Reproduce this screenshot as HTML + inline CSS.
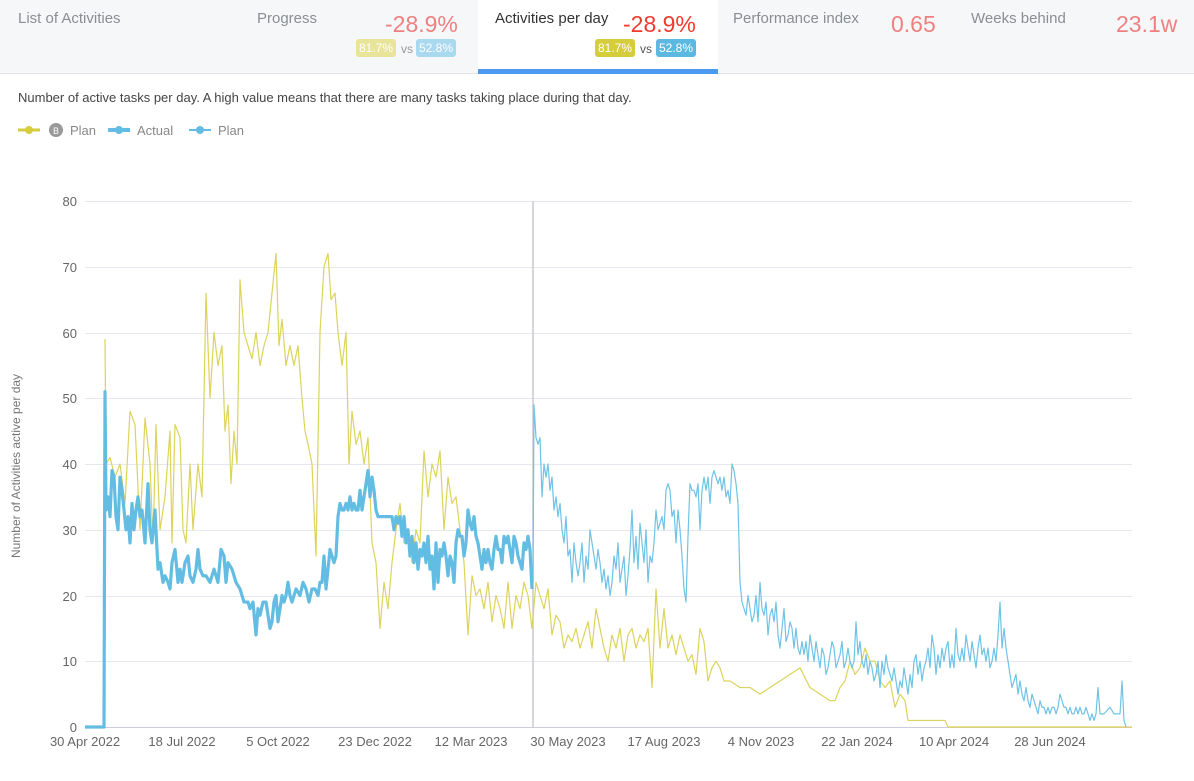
<!DOCTYPE html>
<html><head><meta charset="utf-8"><style>
body{margin:0;width:1194px;height:781px;background:#fff;font-family:"Liberation Sans",sans-serif;position:relative;overflow:hidden}
.hdr{position:absolute;left:0;top:0;width:1194px;height:73px;background:#f6f7f9;border-bottom:1px solid #e2e4e8}
.t{position:absolute;font-size:15px;color:#8a8d93}
.big{position:absolute;font-size:23px;color:#f08080}
.badge{position:absolute;font-size:12px;color:#fff;padding:2px 3px;border-radius:3px}
.vs{position:absolute;font-size:12px;color:#999}
</style></head><body>
<div class="hdr"></div>
<div style="position:absolute;left:478px;top:0;width:240px;height:74px;background:#fff"></div>
<div style="position:absolute;left:478px;top:69px;width:240px;height:5px;background:#4a9bef"></div>
<div class="t" style="left:18px;top:10px">List of Activities</div>
<div class="t" style="left:257px;top:10px">Progress</div>
<div class="big" style="left:385px;top:11px">-28.9%</div>
<div class="badge" style="left:356px;top:39px;background:#e8e49a">81.7%</div>
<div class="vs" style="left:401px;top:42px">vs</div>
<div class="badge" style="left:416px;top:39px;background:#a9d9ee">52.8%</div>
<div class="t" style="left:495px;top:10px;color:#333">Activities per day</div>
<div class="big" style="left:623px;top:11px;color:#f03a2e">-28.9%</div>
<div class="badge" style="left:595px;top:39px;background:#d6cd3d">81.7%</div>
<div class="vs" style="left:640px;top:42px;color:#555">vs</div>
<div class="badge" style="left:656px;top:39px;background:#5bb8e0">52.8%</div>
<div class="t" style="left:733px;top:10px">Performance index</div>
<div class="big" style="left:891px;top:11px">0.65</div>
<div class="t" style="left:971px;top:10px">Weeks behind</div>
<div class="big" style="left:1116px;top:11px">23.1w</div>
<div style="position:absolute;left:18px;top:90px;font-size:13px;color:#444">Number of active tasks per day. A high value means that there are many tasks taking place during that day.</div>
<svg width="1194" height="781" style="position:absolute;left:0;top:0" font-family="Liberation Sans, sans-serif">
<g font-size="13" fill="#888">
<line x1="18" y1="130" x2="40" y2="130" stroke="#d6cd3d" stroke-width="3"/><circle cx="29" cy="130" r="4" fill="#d6cd3d"/>
<circle cx="56" cy="130" r="7" fill="#999"/><text x="56" y="134" font-size="9" fill="#fff" text-anchor="middle">B</text>
<text x="70" y="135">Plan</text>
<line x1="108" y1="130" x2="130" y2="130" stroke="#63bde3" stroke-width="4"/><circle cx="119" cy="130" r="4" fill="#63bde3"/>
<text x="137" y="135">Actual</text>
<line x1="189" y1="130" x2="211" y2="130" stroke="#63bde3" stroke-width="2"/><circle cx="200" cy="130" r="4" fill="#63bde3"/>
<text x="218" y="135">Plan</text>
</g>
<g stroke="#e6e8f0" stroke-width="1">
<line x1="85" x2="1132" y1="201.5" y2="201.5"/><line x1="85" x2="1132" y1="267.5" y2="267.5"/><line x1="85" x2="1132" y1="333.5" y2="333.5"/><line x1="85" x2="1132" y1="398.5" y2="398.5"/><line x1="85" x2="1132" y1="464.5" y2="464.5"/><line x1="85" x2="1132" y1="530.5" y2="530.5"/><line x1="85" x2="1132" y1="596.5" y2="596.5"/><line x1="85" x2="1132" y1="661.5" y2="661.5"/>
</g>
<line x1="85" x2="1132" y1="727.5" y2="727.5" stroke="#ccd" />
<g font-size="13" fill="#666" text-anchor="end">
<text x="77" y="206">80</text><text x="77" y="272">70</text><text x="77" y="338">60</text><text x="77" y="403">50</text><text x="77" y="469">40</text><text x="77" y="535">30</text><text x="77" y="601">20</text><text x="77" y="666">10</text><text x="77" y="732">0</text>
</g>
<g font-size="13" fill="#666" text-anchor="middle">
<text x="85" y="746">30 Apr 2022</text><text x="182" y="746">18 Jul 2022</text><text x="278" y="746">5 Oct 2022</text><text x="375" y="746">23 Dec 2022</text><text x="471" y="746">12 Mar 2023</text><text x="568" y="746">30 May 2023</text><text x="664" y="746">17 Aug 2023</text><text x="761" y="746">4 Nov 2023</text><text x="857" y="746">22 Jan 2024</text><text x="954" y="746">10 Apr 2024</text><text x="1050" y="746">28 Jun 2024</text>
</g>
<text transform="translate(20,466) rotate(-90)" font-size="12" fill="#777" text-anchor="middle">Number of Activities active per day</text>
<line x1="533" x2="533" y1="201" y2="727" stroke="#c8c8d0" stroke-width="1.5"/>
<g transform="translate(0,727) scale(1,-6.575)" fill="none" stroke-linejoin="round">
<polyline vector-effect="non-scaling-stroke" stroke="#dcd35a" stroke-width="1.2" points="105,59 106,40 110,41 115,38 120,40 125,34 130,48 135,46 140,30 145,47 150,40 153,28 156,46 160,30 165,35 170,45 172,28 175,46 180,44 183,30 186,28 190,40 193,30 198,40 202,35 206,66 210,50 214,60 218,55 222,58 225,45 228,49 231,37 234,45 237,40 240,68 244,60 248,58 252,56 256,60 260,55 264,58 268,60 272,66 276,72 279,58 282,62 286,55 290,58 294,55 298,58 302,50 305,45 308,43 312,40 316,26 320,60 324,70 328,72 331,65 335,66 338,60 342,55 346,60 349,40 352,48 356,43 360,45 364,40 368,44 372,28 376,25 380,15 384,22 388,18 392,25 396,30 400,34 404,28 408,30 412,25 416,30 420,28 424,42 428,35 432,40 436,38 440,42 444,30 448,38 452,34 456,35 460,30 464,25 468,14 472,23 476,20 480,21 484,18 488,22 492,16 496,20 500,18 504,15 508,22 512,15 516,20 520,18 524,22 528,20 532,15 536,22 540,20 544,18 548,21 552,14 556,17 560,16 564,12 568,14 572,13 576,15 580,12 584,14 588,16 592,12 596,18 600,15 604,12 608,10 612,14 616,12 620,15 624,10 628,14 632,15 636,12 640,14 644,13 648,15 652,6 656,21 660,12 664,18 668,12 672,14 676,11 680,14 684,12 688,10 692,11 696,8 700,15 704,13 708,7 712,9 716,10 720,9 724,7 730,7 740,6 750,6 760,5 770,6 780,7 790,8 800,9 810,6 820,5 830,4 835,4 840,6 845,7 850,10 855,8 860,9 865,12 870,10 875,10 880,7 885,6 890,7 895,3 900,5 905,4 908,1 912,1 945,1 948,0 1132,0"/>
<polyline vector-effect="non-scaling-stroke" stroke="#6ec3e6" stroke-width="1.2" points="533,22 534,49 536,44 538,43 540,44 542,35 544,40 546,38 548,40 550,36 552,38 554,33 556,35 558,32 560,34 562,30 564,28 566,32 568,26 570,27 572,22 574,28 576,25 578,23 580,25 582,28 584,22 586,26 588,24 590,30 592,28 594,26 596,24 598,27 600,25 602,22 604,24 606,21 608,23 610,20 612,22 614,26 616,24 618,28 620,22 622,24 624,26 626,20 628,23 630,27 632,33 634,25 636,29 638,24 640,31 642,28 644,25 646,30 648,22 650,26 652,25 654,28 656,33 658,30 660,31 662,32 664,30 666,36 668,37 670,36 672,32 674,33 676,28 678,33 680,30 682,26 684,21 686,19 688,29 690,37 692,36 694,36 696,35 698,37 700,30 702,36 704,38 706,36 708,38 710,34 712,38 714,39 716,38 718,37 720,38 722,36 724,38 726,35 728,36 730,34 732,40 734,39 736,37 738,34 740,22 742,19 744,18 746,17 748,20 750,18 752,16 754,17 756,20 758,16 760,22 762,18 764,17 766,19 768,14 770,17 772,18 774,16 776,19 778,14 780,12 782,15 784,18 786,13 788,14 790,16 792,15 794,12 796,15 798,12 800,11 802,13 804,11 806,13 808,10 810,14 812,12 814,10 816,13 818,11 820,9 822,12 824,11 826,8 828,9 830,11 832,13 834,12 836,9 838,10 840,11 842,13 844,9 846,10 848,12 850,10 852,9 854,10 856,16 858,11 860,13 862,10 864,9 866,11 868,8 870,10 872,9 874,7 876,8 878,10 880,6 882,10 884,8 886,11 888,9 890,8 892,7 894,9 896,7 898,5 900,7 902,6 904,9 906,7 908,5 910,8 912,6 914,10 916,11 918,8 920,10 922,7 924,9 926,10 928,12 930,9 932,14 934,12 936,8 938,11 940,9 942,12 944,10 946,12 948,13 950,9 952,11 954,9 956,15 958,11 960,10 962,12 964,10 966,14 968,12 970,10 972,13 974,11 976,9 978,12 980,14 982,11 984,12 986,10 988,12 990,9 992,10 994,12 996,10 998,14 1000,19 1002,12 1004,15 1006,12 1008,10 1010,8 1012,6 1014,7 1016,8 1018,5 1020,7 1022,5 1024,4 1026,6 1028,4 1030,3 1032,5 1034,4 1036,3 1038,2 1040,4 1042,3 1044,3 1046,2 1048,3 1050,2 1052,3 1054,3 1056,2 1058,3 1060,5 1062,4 1064,3 1066,3 1068,2 1070,3 1072,2 1074,2 1076,3 1078,2 1080,3 1082,2 1084,2 1086,3 1088,2 1090,1 1092,2 1094,1 1096,2 1098,6 1100,2 1104,2 1110,3 1114,2 1118,2 1120,2 1122,7 1124,1 1126,0"/>
<polyline vector-effect="non-scaling-stroke" stroke="#63bde3" stroke-width="3.2" points="85,0 104,0 105,51 106,33 108,35 110,32 112,39 114,38 116,32 118,30 120,38 122,36 124,33 126,30 128,32 130,28 132,34 134,30 136,33 138,35 140,32 142,33 145,28 148,37 150,30 152,28 155,33 158,24 160,25 163,22 165,23 168,22 170,21 172,25 175,27 178,22 180,24 182,22 185,25 188,26 190,23 193,22 196,24 198,27 200,24 203,23 206,23 210,22 214,24 218,22 221,27 224,26 226,22 228,25 232,24 236,22 240,21 244,19 248,19 250,18 253,19 256,14 258,18 260,17 263,19 266,19 268,17 270,15 272,16 274,19 276,20 278,16 280,18 282,20 284,19 286,20 288,22 290,20 292,19 296,21 300,20 303,22 306,21 309,19 312,21 315,21 318,20 320,22 322,22 324,26 326,21 328,24 330,27 332,26 334,25 336,26 338,32 340,34 342,33 344,33 346,34 348,33 350,35 352,33 354,34 356,33 358,33 360,36 362,33 364,35 366,37 368,39 370,35 372,38 374,36 376,33 378,32 380,32 392,32 394,30 396,32 398,31 400,32 402,29 404,32 406,28 408,30 410,26 412,29 414,25 416,28 418,24 420,27 422,26 424,28 426,25 428,29 430,24 432,26 434,21 436,28 438,22 440,27 442,26 444,28 446,26 448,23 450,26 452,25 454,22 456,28 458,30 460,29 462,29 464,26 466,28 468,33 470,31 472,30 474,32 476,29 478,28 480,26 482,24 484,27 486,25 488,27 490,25 492,24 494,27 496,29 498,27 500,27 502,25 504,29 506,28 508,29 510,27 512,25 514,29 516,28 518,26 520,25 522,24 524,28 526,27 528,29 530,27 532,21"/>
</g>
</svg>
</body></html>
